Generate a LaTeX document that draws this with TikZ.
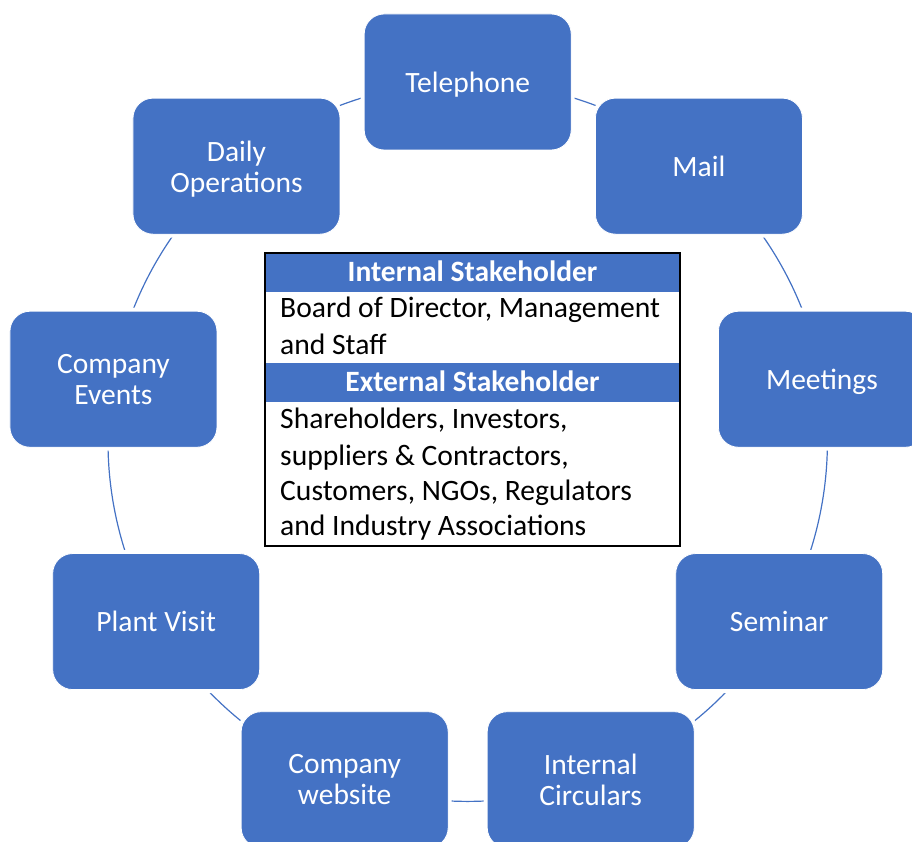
\documentclass[tikz,border=0pt]{standalone}
\usepackage{fontspec}
\setmainfont{Carlito}
\definecolor{boxblue}{HTML}{4472C4}
\newcommand{\cstrut}{\rule{0pt}{26pt}}
\pgfdeclarelayer{background}
\pgfsetlayers{background,main}
\tikzset{
  cyc/.style={rectangle, rounded corners=20pt, minimum width=207pt, minimum height=136pt,
    inner sep=0pt, outer sep=0pt, fill=boxblue, draw=white, line width=0.8pt,
    preaction={draw=white, line width=7pt}, text=white, align=center,
    font=\fontsize{29.5}{31}\selectfont},
  ring/.style={draw=boxblue, line width=1.2pt},
  hdrbar/.style={rectangle, fill=boxblue, draw=none, inner sep=0pt, outer sep=0pt,
    minimum width=415pt, minimum height=38.5pt, anchor=north west},
  tabframe/.style={rectangle, draw=black, line width=2pt, inner sep=0pt, outer sep=0pt,
    minimum width=415pt, minimum height=293pt, anchor=north west},
  hdrtxt/.style={text=white, font=\fontsize{29.5}{36}\selectfont\bfseries, inner sep=0pt, anchor=base},
  tabtxt/.style={text=black, font=\fontsize{29.6}{36}\selectfont, inner sep=0pt, anchor=base west},
}
\begin{document}
\begin{tikzpicture}
\useasboundingbox (0,0) rectangle (912pt,-842pt);
\clip (0,0) rectangle (912pt,-842pt);
\begin{scope}[shift={(467.7pt,-441.7pt)}]
  \node[cyc] (tel)   at (90:359.7pt)   {\cstrut Telephone};
  \node[cyc] (mail)  at (50:359.7pt)   {Mail};
  \node[cyc] (meet)  at (10:359.7pt)   {\cstrut Meetings};
  \node[cyc] (sem)   at (-30:359.7pt)  {Seminar};
  \node[cyc] (circ)  at (-70:359.7pt)  {Internal\\Circulars};
  \node[cyc] (web)   at (-110:359.7pt) {Company\\website};
  \node[cyc] (plant) at (-150:359.7pt) {Plant Visit};
  \node[cyc] (event) at (170:359.7pt)  {Company\\Events};
  \node[cyc] (daily) at (130:359.7pt)  {\cstrut Daily\\Operations};
\end{scope}
\begin{pgfonlayer}{background}
  \draw[ring] (tel.center)   arc[start angle=90,   end angle=50,   radius=359.7pt];
  \draw[ring] (mail.center)  arc[start angle=50,   end angle=10,   radius=359.7pt];
  \draw[ring] (meet.center)  arc[start angle=10,   end angle=-30,  radius=359.7pt];
  \draw[ring] (sem.center)   arc[start angle=-30,  end angle=-70,  radius=359.7pt];
  \draw[ring] (circ.center)  arc[start angle=-70,  end angle=-110, radius=359.7pt];
  \draw[ring] (web.center)   arc[start angle=-110, end angle=-150, radius=359.7pt];
  \draw[ring] (plant.center) arc[start angle=210,  end angle=170,  radius=359.7pt];
  \draw[ring] (event.center) arc[start angle=170,  end angle=130,  radius=359.7pt];
  \draw[ring] (daily.center) arc[start angle=130,  end angle=90,   radius=359.7pt];
\end{pgfonlayer}
% central table
\node[hdrbar] (h1) at (265pt,-253pt) {};
\node[hdrbar] (h2) at (265pt,-363pt) {};
\node[tabframe] (tab) at (265pt,-253pt) {};
\node[hdrtxt] (h1t) at (472.5pt,-281pt) {Internal Stakeholder};
\node[hdrtxt] (h2t) at (472.5pt,-391pt) {External Stakeholder};
\node[tabtxt] (r1a) at (280pt,-317.7pt) {Board of Director, Management};
\node[tabtxt] (r1b) at (280pt,-354pt)   {and Staff};
\node[tabtxt] (r2a) at (280pt,-428.3pt) {Shareholders, Investors,};
\node[tabtxt] (r2b) at (280pt,-465pt)   {suppliers \& Contractors,};
\node[tabtxt] (r2c) at (280pt,-500.5pt) {Customers, NGOs, Regulators};
\node[tabtxt] (r2d) at (280pt,-535.7pt) {and Industry Associations};
\end{tikzpicture}
\end{document}
